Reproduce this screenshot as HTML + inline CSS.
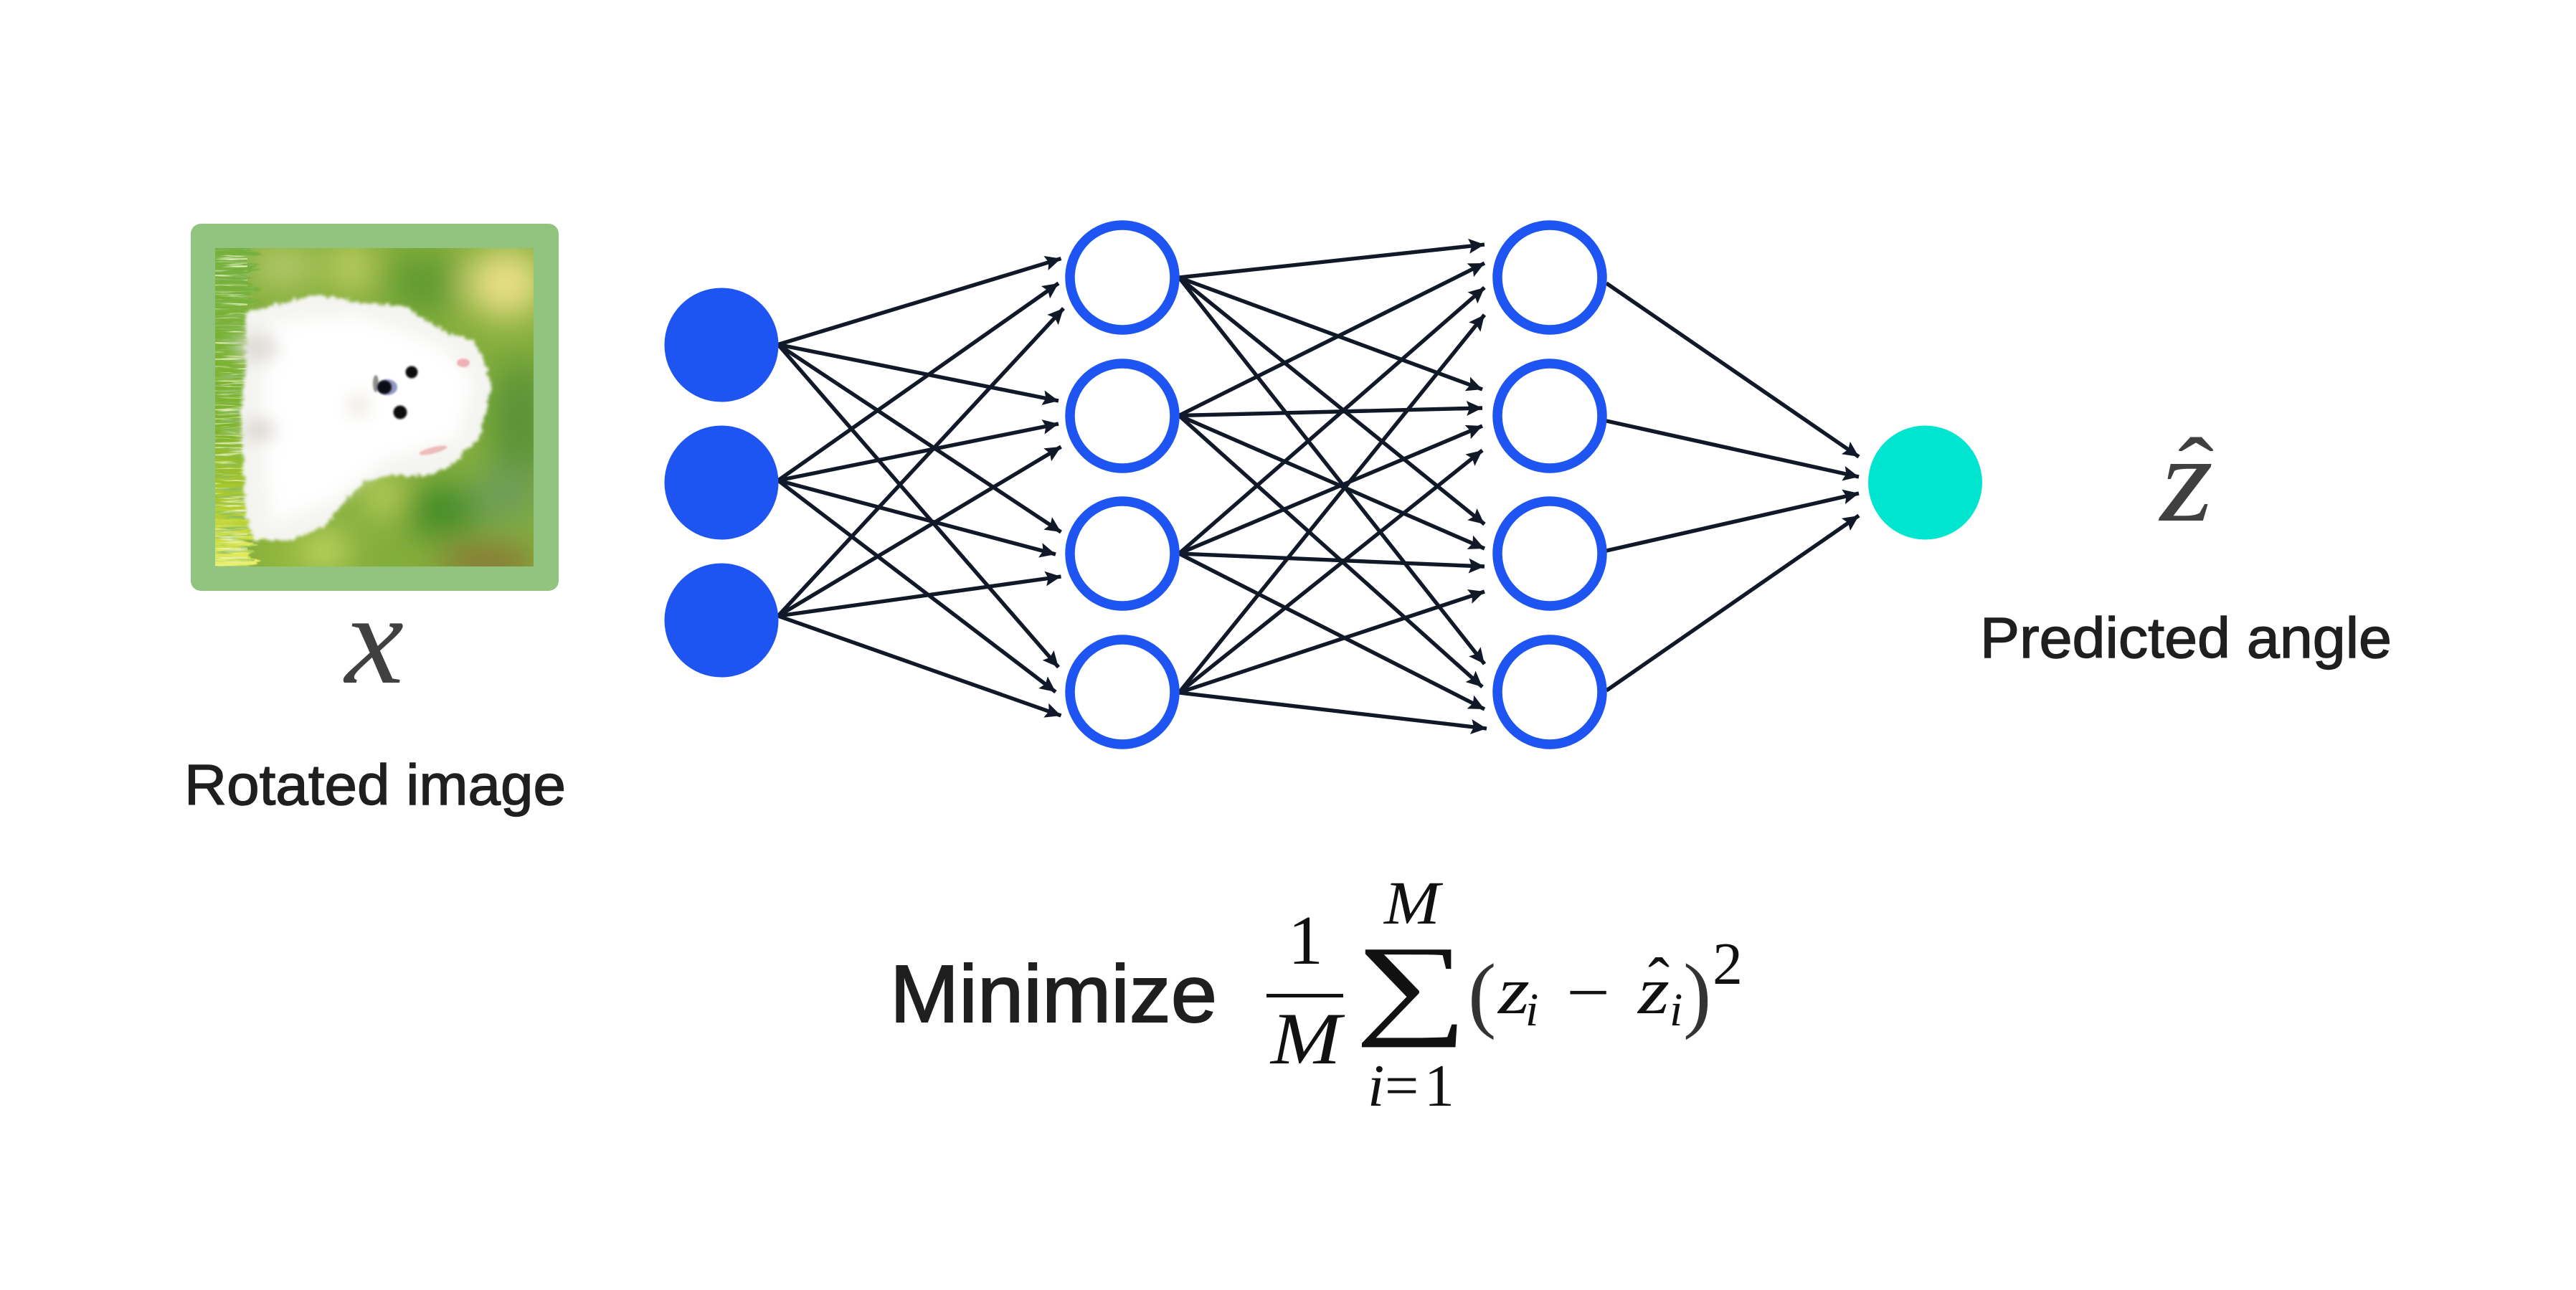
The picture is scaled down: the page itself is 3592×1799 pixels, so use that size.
<!DOCTYPE html>
<html><head><meta charset="utf-8"><style>html,body{margin:0;padding:0;background:#fff}svg{display:block}</style></head>
<body>
<svg xmlns="http://www.w3.org/2000/svg" width="3592" height="1799" viewBox="0 0 3592 1799">
<defs>
<marker id="a" markerUnits="userSpaceOnUse" markerWidth="24" markerHeight="22" refX="22" refY="10.5" orient="auto"><path d="M0,0 L22,10.5 L0,21 L4,10.5 z" fill="#111827"/></marker>
<clipPath id="ic"><rect x="300" y="346" width="444" height="444"/></clipPath>
<filter id="b30" x="-50%" y="-50%" width="200%" height="200%"><feGaussianBlur stdDeviation="24"/></filter>
<filter id="b12" x="-50%" y="-50%" width="200%" height="200%"><feGaussianBlur stdDeviation="12"/></filter>
<filter id="b2" x="-50%" y="-50%" width="200%" height="200%"><feGaussianBlur stdDeviation="1.3"/></filter>
<filter id="fur" x="-10%" y="-10%" width="120%" height="120%"><feTurbulence type="fractalNoise" baseFrequency="0.16" numOctaves="3" seed="4"/><feDisplacementMap in="SourceGraphic" scale="12" xChannelSelector="R" yChannelSelector="G"/><feGaussianBlur stdDeviation="2"/></filter>
<filter id="jag" x="-40%" y="-5%" width="200%" height="110%"><feTurbulence type="fractalNoise" baseFrequency="0.015 0.16" numOctaves="3" seed="9"/><feDisplacementMap in="SourceGraphic" scale="70" xChannelSelector="R" yChannelSelector="B"/><feGaussianBlur stdDeviation="0.7"/></filter>
<filter id="grass" x="0" y="0" width="100%" height="100%"><feTurbulence type="fractalNoise" baseFrequency="0.02 0.25" numOctaves="3" seed="7"/><feColorMatrix type="matrix" values="0 0 0 0 0.25  0 0 0 0 0.50  0 0 0 0 0.12  3.4 0 0 0 -1.65"/></filter>
<filter id="grass2" x="0" y="0" width="100%" height="100%"><feTurbulence type="fractalNoise" baseFrequency="0.02 0.3" numOctaves="3" seed="11"/><feColorMatrix type="matrix" values="0 0 0 0 0.82  0 0 0 0 0.90  0 0 0 0 0.55  3.6 0 0 0 -2.0"/></filter>
<linearGradient id="gl" x1="0" y1="0" x2="0" y2="1"><stop offset="0" stop-color="#74b040"/><stop offset=".55" stop-color="#7eb22c"/><stop offset=".8" stop-color="#b8d030"/><stop offset=".93" stop-color="#e8ee60"/><stop offset="1" stop-color="#f0f08a"/></linearGradient>
</defs>

<!-- image card -->
<rect x="266" y="312" width="513" height="512" rx="14" fill="#91c57f"/>
<g clip-path="url(#ic)">
  <rect x="300" y="346" width="444" height="444" fill="#84ae3c"/>
  <g filter="url(#b30)">
    <ellipse cx="705" cy="395" rx="55" ry="48" fill="#eadf86"/>
    <ellipse cx="490" cy="372" rx="24" ry="34" fill="#d3da6e"/>
    <ellipse cx="395" cy="372" rx="50" ry="30" fill="#b6cb6c"/>
    <ellipse cx="590" cy="395" rx="50" ry="40" fill="#5f9a30"/>
    <ellipse cx="725" cy="590" rx="42" ry="90" fill="#5a9338"/>
    <ellipse cx="615" cy="712" rx="55" ry="35" fill="#3f8a28"/>
    <ellipse cx="705" cy="690" rx="50" ry="40" fill="#6e9e58"/>
    <ellipse cx="680" cy="785" rx="70" ry="22" fill="#8a6a34"/>
    <ellipse cx="535" cy="692" rx="26" ry="24" fill="#cfde68"/>
    <ellipse cx="455" cy="768" rx="26" ry="26" fill="#dbe670"/>
    <ellipse cx="395" cy="775" rx="35" ry="20" fill="#9fc040"/>
  </g>
  <rect x="260" y="320" width="92" height="500" fill="url(#gl)" filter="url(#jag)"/>
  <rect x="300" y="346" width="55" height="444" filter="url(#grass)"/>
  <rect x="300" y="346" width="45" height="444" filter="url(#grass2)"/>
  <path d="M343,436 L393,422 L443,411 L508,422 L565,427 L623,464 L661,475 L680,514 L684,543 L669,610 L630,649 L596,663 L546,663 L508,672 L485,694 L454,733 L408,753 L355,753 L343,722 L339,649 L336,571 L343,514 Z" fill="#f4f4f1" filter="url(#fur)"/>
  <g filter="url(#b12)">
    <path d="M375,450 L500,440 L610,480 L660,530 L640,610 L540,640 L460,700 L380,730 L365,600 Z" fill="#ffffff"/>
    <ellipse cx="360" cy="485" rx="28" ry="20" fill="#dedbd5"/>
    <ellipse cx="362" cy="600" rx="22" ry="16" fill="#dad6cf"/>
    <ellipse cx="500" cy="565" rx="15" ry="14" fill="#ebe6dc"/>
  </g>
  <ellipse cx="646" cy="506" rx="9" ry="6" fill="#eeb1b4" filter="url(#b2)"/>
  <ellipse cx="604" cy="628" rx="20" ry="4.5" fill="#edbcb8" transform="rotate(-14 604 628)" filter="url(#b2)"/>
  <ellipse cx="524" cy="535" rx="4" ry="12" fill="#8f8f88" filter="url(#b2)"/>
  <ellipse cx="540" cy="540" rx="14" ry="11" fill="#8f96c2" filter="url(#b2)"/>
  <ellipse cx="536" cy="540" rx="10" ry="9.5" fill="#0c0c14" filter="url(#b2)"/>
  <circle cx="574" cy="519" r="8.5" fill="#10100f" filter="url(#b2)"/>
  <circle cx="558" cy="575" r="9.5" fill="#10100f" filter="url(#b2)"/>
</g>

<!-- connectors -->
<g stroke="#111827" stroke-width="5.4" fill="none">
<line x1="1085" y1="480.5" x2="1479.5" y2="360.6" marker-end="url(#a)"/>
<line x1="1085" y1="480.5" x2="1476" y2="559" marker-end="url(#a)"/>
<line x1="1085" y1="480.5" x2="1479.5" y2="742" marker-end="url(#a)"/>
<line x1="1085" y1="480.5" x2="1476" y2="930.5" marker-end="url(#a)"/>
<line x1="1085" y1="670" x2="1476" y2="395" marker-end="url(#a)"/>
<line x1="1085" y1="670" x2="1476" y2="591" marker-end="url(#a)"/>
<line x1="1085" y1="670" x2="1472" y2="773" marker-end="url(#a)"/>
<line x1="1085" y1="670" x2="1472" y2="965" marker-end="url(#a)"/>
<line x1="1085" y1="859" x2="1483" y2="430" marker-end="url(#a)"/>
<line x1="1085" y1="859" x2="1479.5" y2="623" marker-end="url(#a)"/>
<line x1="1085" y1="859" x2="1479.5" y2="804" marker-end="url(#a)"/>
<line x1="1085" y1="859" x2="1479.5" y2="998" marker-end="url(#a)"/>

<line x1="1644" y1="387" x2="2070" y2="341" marker-end="url(#a)"/>
<line x1="1644" y1="387" x2="2067" y2="543" marker-end="url(#a)"/>
<line x1="1644" y1="387" x2="2070" y2="731" marker-end="url(#a)"/>
<line x1="1644" y1="387" x2="2070" y2="926" marker-end="url(#a)"/>
<line x1="1644" y1="579.5" x2="2070" y2="367" marker-end="url(#a)"/>
<line x1="1644" y1="579.5" x2="2067" y2="569" marker-end="url(#a)"/>
<line x1="1644" y1="579.5" x2="2070" y2="765" marker-end="url(#a)"/>
<line x1="1644" y1="579.5" x2="2067" y2="958" marker-end="url(#a)"/>
<line x1="1644" y1="772" x2="2070" y2="401" marker-end="url(#a)"/>
<line x1="1644" y1="772" x2="2067" y2="594" marker-end="url(#a)"/>
<line x1="1644" y1="772" x2="2070" y2="790" marker-end="url(#a)"/>
<line x1="1644" y1="772" x2="2070" y2="989" marker-end="url(#a)"/>
<line x1="1644" y1="966" x2="2070" y2="439" marker-end="url(#a)"/>
<line x1="1644" y1="966" x2="2067" y2="628" marker-end="url(#a)"/>
<line x1="1644" y1="966" x2="2070" y2="825" marker-end="url(#a)"/>
<line x1="1644" y1="966" x2="2073" y2="1016" marker-end="url(#a)"/>

<line x1="2240" y1="395" x2="2592" y2="637" marker-end="url(#a)"/>
<line x1="2240" y1="587" x2="2592" y2="665" marker-end="url(#a)"/>
<line x1="2240" y1="768" x2="2592" y2="688" marker-end="url(#a)"/>
<line x1="2240" y1="963" x2="2592" y2="719" marker-end="url(#a)"/>
</g>

<!-- nodes -->
<g fill="#1d54f2">
<circle cx="1006" cy="481" r="79.5"/>
<circle cx="1006" cy="673" r="79.5"/>
<circle cx="1006" cy="865" r="79.5"/>
</g>
<g fill="#fff" stroke="#1d54f2" stroke-width="13.5">
<circle cx="1565" cy="387" r="73"/>
<circle cx="1565" cy="580" r="73"/>
<circle cx="1565" cy="772" r="73"/>
<circle cx="1565" cy="965" r="73"/>
<circle cx="2161" cy="387" r="73"/>
<circle cx="2161" cy="580" r="73"/>
<circle cx="2161" cy="772" r="73"/>
<circle cx="2161" cy="965" r="73"/>
</g>
<circle cx="2684.5" cy="673" r="79.5" fill="#00e5cf"/>

<!-- labels -->
<g font-family="'Liberation Sans',sans-serif" fill="#1f1f1f" stroke="#1f1f1f">
<text x="257" y="1122" font-size="80" stroke-width="1.4" textLength="532" lengthAdjust="spacingAndGlyphs">Rotated image</text>
<text x="2761" y="917" font-size="80" stroke-width="1.4" textLength="574" lengthAdjust="spacingAndGlyphs">Predicted angle</text>
<text x="1241" y="1425" font-size="113" stroke-width="2" textLength="456" lengthAdjust="spacingAndGlyphs">Minimize</text>
</g>
<g font-family="'Liberation Serif',serif" font-style="italic" fill="#404040">
<text x="481" y="952" font-size="180" textLength="82" lengthAdjust="spacingAndGlyphs">x</text>
<text x="3012" y="726" font-size="172" textLength="74" lengthAdjust="spacingAndGlyphs">z</text>
<text x="3037" y="700" font-size="130" font-style="normal" textLength="50" lengthAdjust="spacingAndGlyphs">ˆ</text>
</g>

<!-- formula -->
<g font-family="'Liberation Serif',serif" fill="#111">
<rect x="1766" y="1386" width="107" height="5"/>
<text x="1796" y="1344" font-size="98">1</text>
<text x="1772" y="1483" font-size="103" font-style="italic" textLength="98" lengthAdjust="spacingAndGlyphs">M</text>
<text x="1930" y="1288" font-size="86" font-style="italic" textLength="78" lengthAdjust="spacingAndGlyphs">M</text>
<text x="1889" y="1427" font-size="157" textLength="158" lengthAdjust="spacingAndGlyphs">∑</text>
<text x="1907" y="1542" font-size="84" font-style="italic">i</text>
<text x="1931" y="1542" font-size="84">=</text>
<text x="1986" y="1542" font-size="84">1</text>
<text x="2047" y="1425" font-size="118" fill="#333">(</text>
<text x="2089" y="1413" font-size="93" font-style="italic" textLength="44" lengthAdjust="spacingAndGlyphs">z</text>
<text x="2127" y="1430" font-size="66" font-style="italic">i</text>
<text x="2184" y="1415" font-size="93" textLength="61" lengthAdjust="spacingAndGlyphs">−</text>
<text x="2284" y="1413" font-size="93" font-style="italic" textLength="44" lengthAdjust="spacingAndGlyphs">z</text>
<text x="2298" y="1398" font-size="90">ˆ</text>
<text x="2328" y="1430" font-size="66" font-style="italic">i</text>
<text x="2347" y="1425" font-size="118" fill="#333">)</text>
<text x="2388" y="1372" font-size="84">2</text>
</g>
</svg>
</body></html>
